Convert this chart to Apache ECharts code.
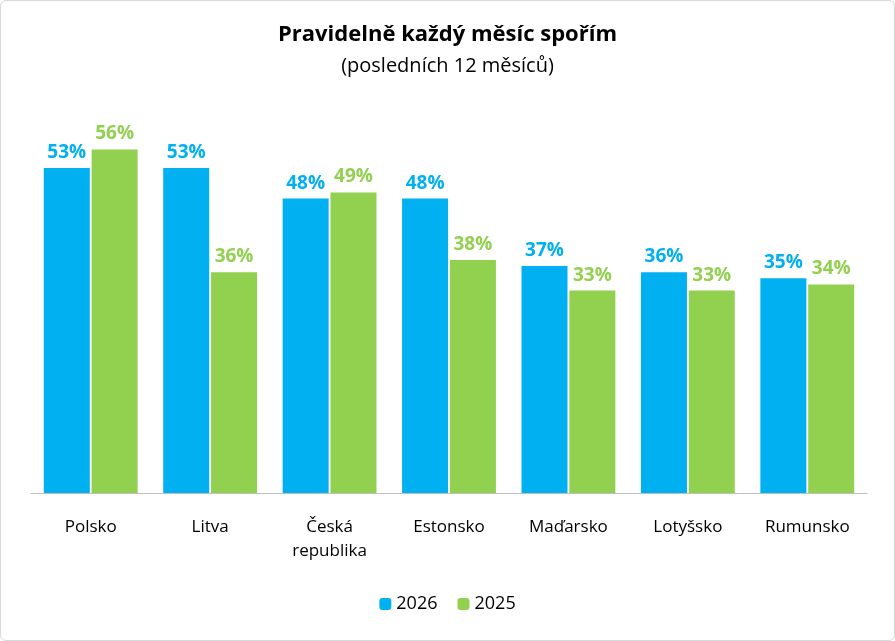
<!DOCTYPE html>
<html>
<head>
<meta charset="utf-8">
<script src="https://cdn.jsdelivr.net/npm/echarts@6/dist/echarts.min.js"></script>
<style>
  html, body { margin: 0; padding: 0; background: #fff; }
  #chart { width: 893px; height: 639px; border: 1px solid #d9d9d9; border-radius: 6px; }
</style>
</head>
<body>
<div id="chart"></div>
<script>
const categories = ["Polsko", "Litva", "Česká\nrepublika", "Estonsko", "Maďarsko", "Lotyšsko", "Rumunsko"]
const values2026 = [53, 53, 48, 48, 37, 36, 35]
const values2025 = [56, 36, 49, 38, 33, 33, 34]

const chart = echarts.init(document.getElementById("chart"))
const labelStyle = color => ({
    show: true, position: "top", formatter: "{c}%", color: color,
    fontWeight: "bold", fontSize: 19, fontFamily: "Open Sans", distance: 6
})
chart.setOption({
    animation: false,
    textStyle: { fontFamily: "Open Sans" },
    title: {
        text: "Pravidelně každý měsíc spořím",
        subtext: "(posledních 12 měsíců)",
        left: "center", top: 18, itemGap: 10,
        textStyle: { fontSize: 22, fontWeight: "bold", color: "#000", fontFamily: "Open Sans" },
        subtextStyle: { fontSize: 20, color: "#000", fontFamily: "Open Sans" }
    },
    legend: {
        bottom: 22, itemWidth: 12, itemHeight: 12, itemGap: 20,
        textStyle: { fontSize: 18, color: "#000" },
        data: ["2026", "2025"]
    },
    grid: { left: 30, right: 27, top: 124, bottom: 147 },
    xAxis: {
        type: "category", data: categories,
        axisLine: { lineStyle: { color: "#bfbfbf" } },
        axisTick: { show: false },
        axisLabel: { fontSize: 17, color: "#000", margin: 22, lineHeight: 24 }
    },
    yAxis: { type: "value", min: 0, max: 60, show: false, splitLine: { show: false } },
    series: [
        { name: "2026", type: "bar", data: values2026, barWidth: 46, barGap: "4%",
          itemStyle: { color: "#00B0F0" }, label: labelStyle("#00B0F0") },
        { name: "2025", type: "bar", data: values2025, barWidth: 46,
          itemStyle: { color: "#92D050" }, label: labelStyle("#92D050") }
    ]
})
</script>
</body>
</html>
